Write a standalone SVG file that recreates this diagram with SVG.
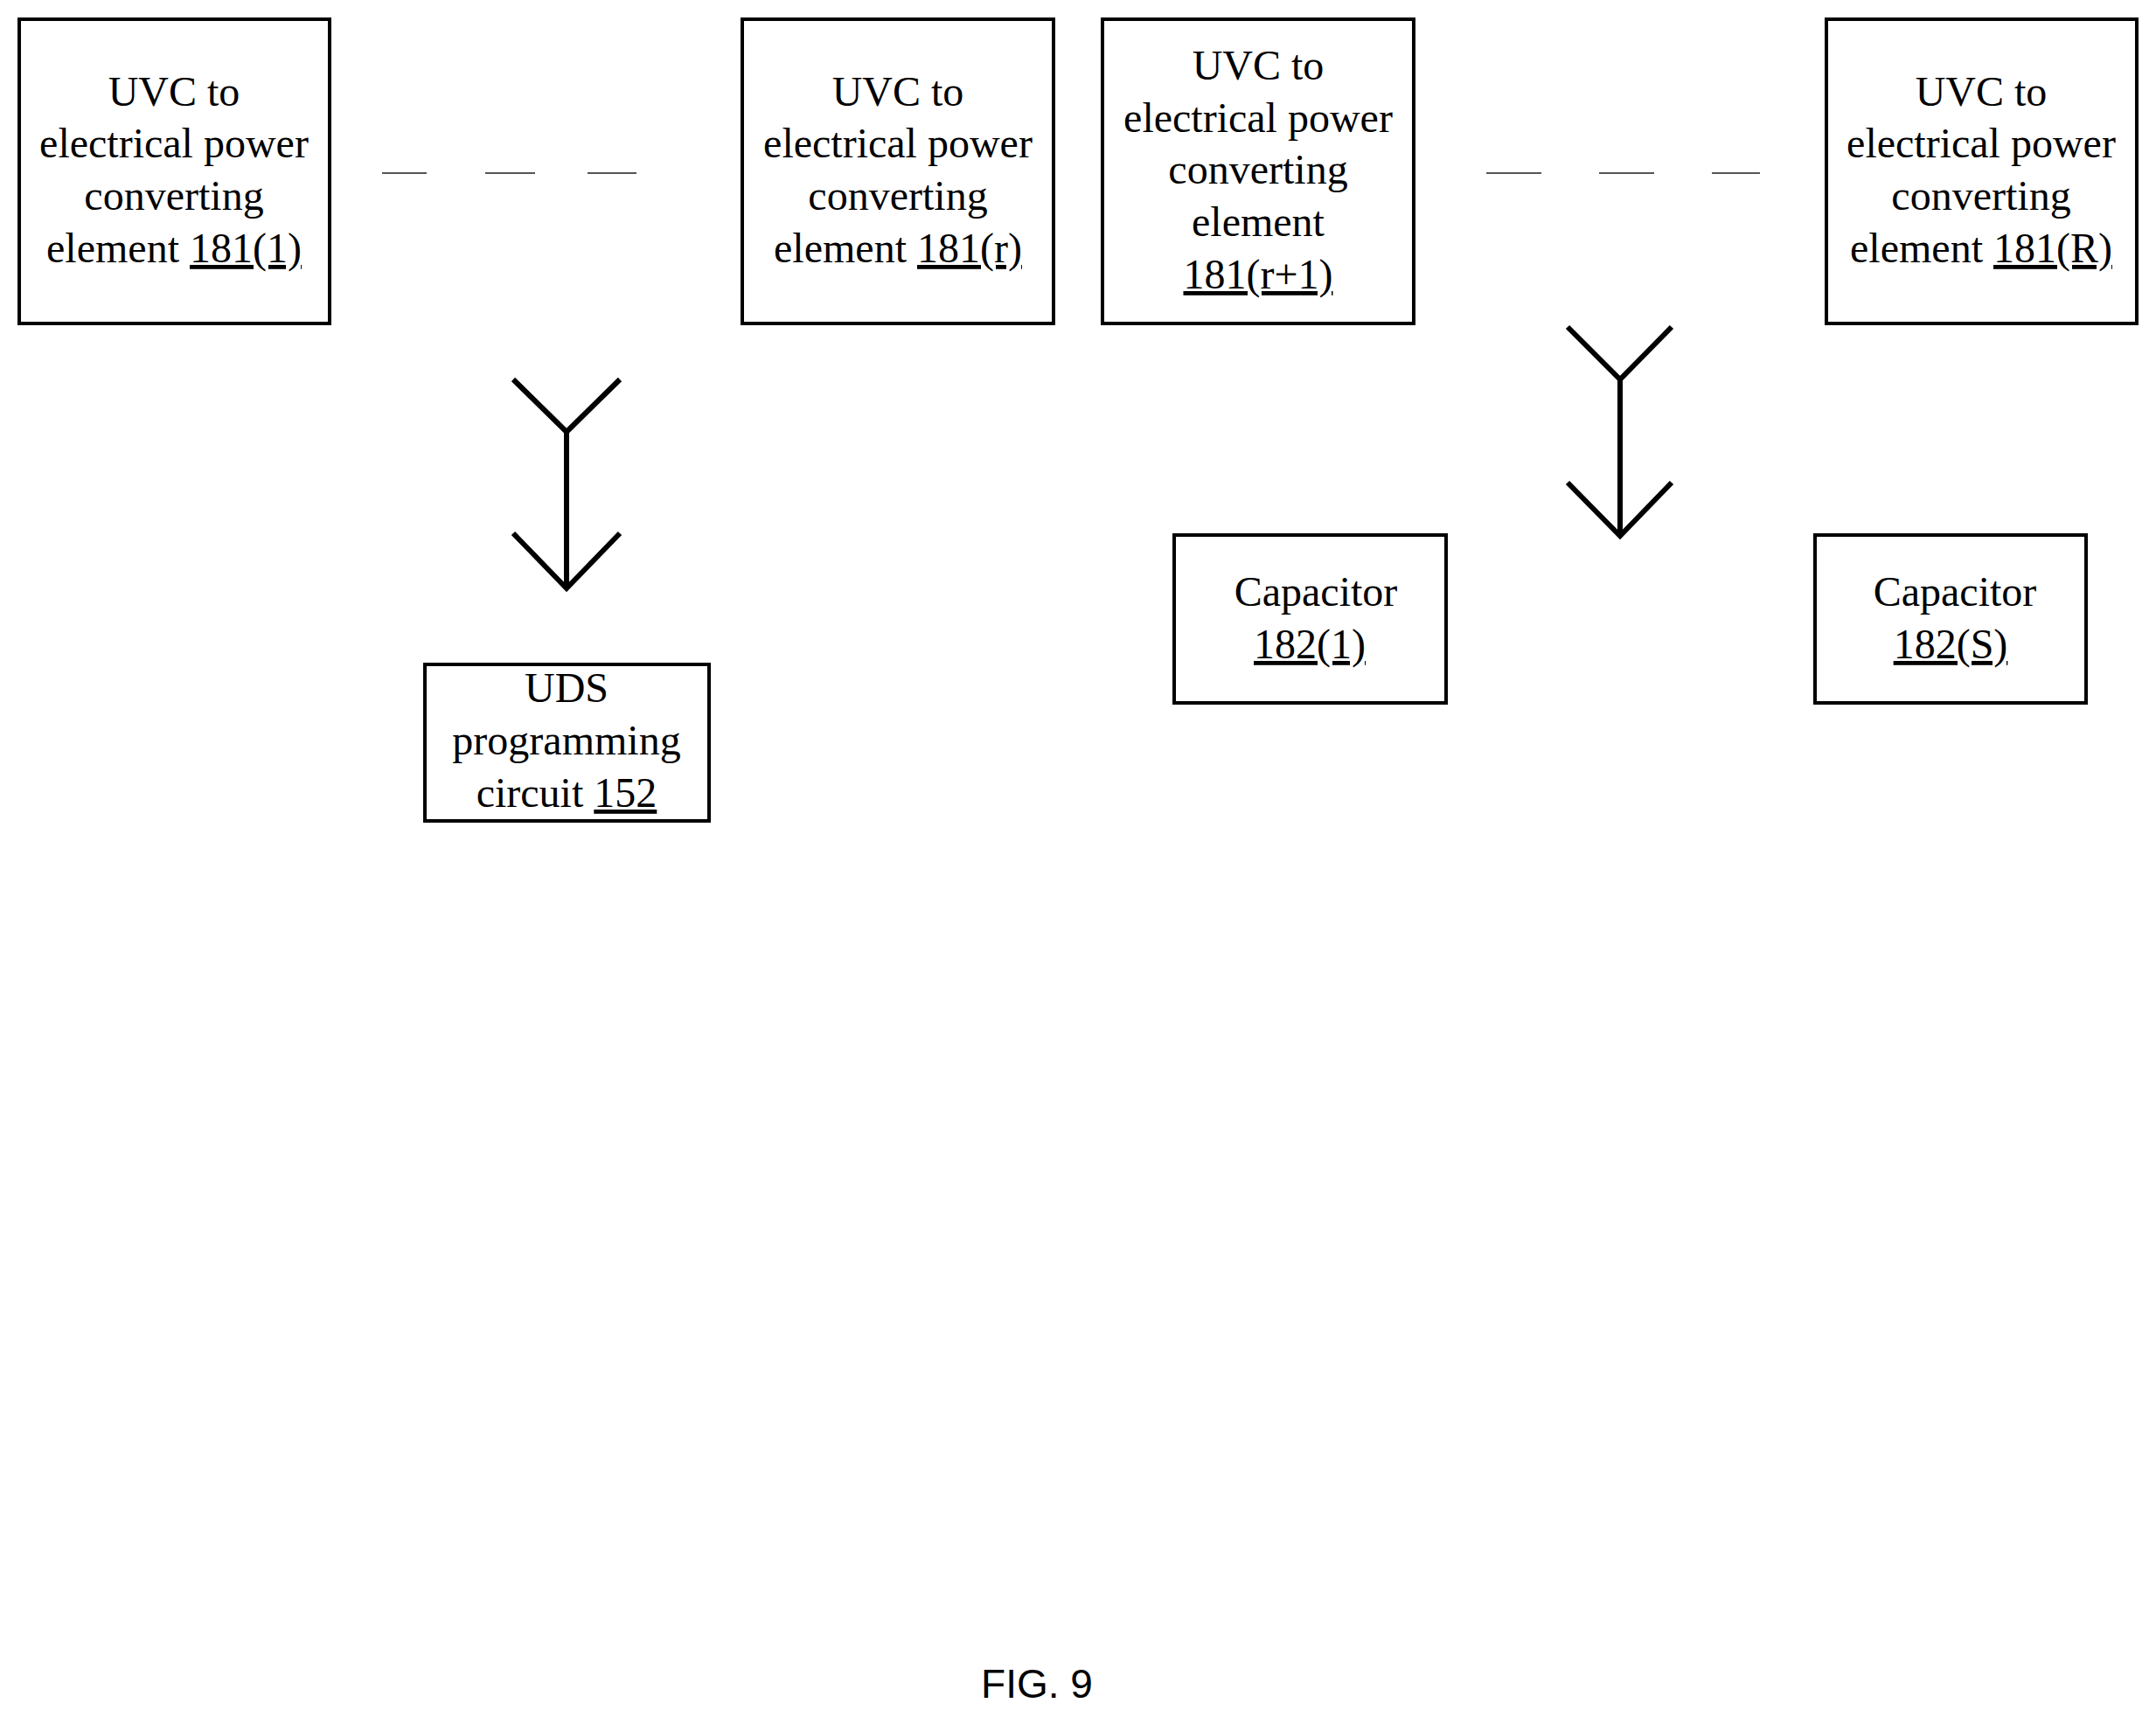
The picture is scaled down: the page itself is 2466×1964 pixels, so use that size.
<svg xmlns="http://www.w3.org/2000/svg" width="2466" height="1964" viewBox="0 0 2466 1964">
<style>
rect{fill:#fff;stroke:#000;stroke-width:4}
text{font-family:"Liberation Serif","Times New Roman",serif;font-size:48px;text-anchor:middle;fill:#000}
.u{text-decoration:underline}
.a{fill:none;stroke:#000;stroke-width:6}
.d{stroke:#555;stroke-width:2}
</style>
<rect width="2466" height="1964" style="fill:#fff;stroke:none"/>
<g id="n1"><rect x="22" y="22" width="355" height="348"/><text x="199" y="121">UVC to</text><text x="199" y="180">electrical power</text><text x="199" y="240">converting</text><text x="199" y="300">element <tspan class="u">181(1)</tspan></text></g>
<g id="n2"><rect x="849" y="22" width="356" height="348"/><text x="1027" y="121">UVC to</text><text x="1027" y="180">electrical power</text><text x="1027" y="240">converting</text><text x="1027" y="300">element <tspan class="u">181(r)</tspan></text></g>
<g id="n3"><rect x="1261" y="22" width="356" height="348"/><text x="1439" y="91">UVC to</text><text x="1439" y="151">electrical power</text><text x="1439" y="210">converting</text><text x="1439" y="270">element</text><text x="1439" y="330" class="u">181(r+1)</text></g>
<g id="n4"><rect x="2089" y="22" width="355" height="348"/><text x="2266" y="121">UVC to</text><text x="2266" y="180">electrical power</text><text x="2266" y="240">converting</text><text x="2266" y="300">element <tspan class="u">181(R)</tspan></text></g>
<g id="n5"><rect x="486" y="760" width="325" height="179"/><text x="648" y="803">UDS</text><text x="648" y="863">programming</text><text x="648" y="923">circuit <tspan class="u">152</tspan></text></g>
<g id="n6"><rect x="1343" y="612" width="311" height="192"/><text x="1505" y="693">Capacitor</text><text x="1498" y="753" class="u">182(1)</text></g>
<g id="n7"><rect x="2076" y="612" width="310" height="192"/><text x="2236" y="693">Capacitor</text><text x="2231" y="753" class="u">182(S)</text></g>
<g id="connectors">
<path class="d" d="M437 198H488M555 198H612M672 198H728M1700 198H1763M1829 198H1892M1958 198H2013"/>
<path class="a" d="M587 434L648 494L709 434M648 494V673M587 610L648 673L709 610"/>
<path class="a" d="M1793 374L1853 434L1912 374M1853 434V613M1793 552L1853 613L1912 552"/>
</g>
<text x="1186" y="1942" style="font-family:'Liberation Sans',sans-serif;font-size:46px">FIG. 9</text>
</svg>
